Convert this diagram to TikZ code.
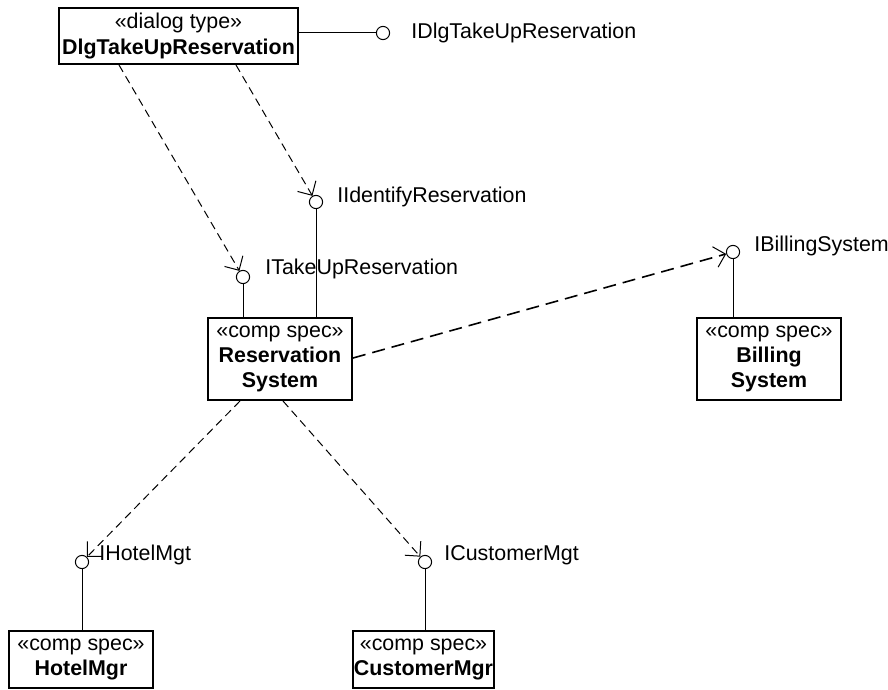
\documentclass[tikz,border=0pt]{standalone}
\usepackage{fontspec}
\setmainfont{Liberation Sans}
\usetikzlibrary{arrows.meta,calc}
\begin{document}
\begin{tikzpicture}[x=0.5pt,y=-0.5pt,
  every node/.style={font=\fontsize{10.7}{12.7}\selectfont},
  comp/.style={draw,line width=1pt,inner sep=0pt,align=center},
  iface/.style={circle,draw,fill=white,line width=0.5pt,minimum size=6.6pt,inner sep=0pt},
  ilabel/.style={anchor=west,inner sep=0pt},
  wire/.style={line width=0.5pt},
  dep/.style={line width=0.5pt,dash pattern=on 4pt off 2.5pt,
    -{Straight Barb[length=5.3pt,width=10.6pt,line width=0.5pt]}},
  deplong/.style={line width=0.8pt,dash pattern=on 6.5pt off 3.5pt,
    -{Straight Barb[length=5.3pt,width=10.6pt,line width=0.5pt]}}
]
\useasboundingbox (0,0) rectangle (888,690);

% components
\node[comp,minimum width=119.5pt,minimum height=28pt] (dlg) at (178.5,36)
  {«dialog type»\\\textbf{DlgTakeUpReservation}};
\node[comp,minimum width=72pt,minimum height=41pt] (res) at (280,359)
  {«comp spec»\\\textbf{Reservation}\\\textbf{System}};
\node[comp,minimum width=72pt,minimum height=41pt] (bill) at (769,359)
  {«comp spec»\\\textbf{Billing}\\\textbf{System}};
\node[comp,minimum width=72pt,minimum height=28.5pt] (hotel) at (81,659.5)
  {«comp spec»\\\textbf{HotelMgr}};
\node[comp,minimum width=70.5pt,minimum height=28.5pt] (cust) at (423.5,659.5)
  {«comp spec»\\\textbf{CustomerMgr}};

% provided interfaces (lollipops)
\node[iface] (idlg) at (383,33) {};
\node[iface] (iident) at (316,202) {};
\node[iface] (itake) at (243,277) {};
\node[iface] (ibill) at (733,252) {};
\node[iface] (ihotel) at (82,562) {};
\node[iface] (icust) at (425,562) {};

\node[ilabel] (lidlg) at (411,33) {IDlgTakeUpReservation};
\node[ilabel] (liident) at (337,197) {IIdentifyReservation};
\node[ilabel] (litake) at (265,269) {ITakeUpReservation};
\node[ilabel] (libill) at (754,246) {IBillingSystem};
\node[ilabel] (lihotel) at (99,555) {IHotelMgt};
\node[ilabel] (licust) at (444,555) {ICustomerMgt};

% lollipop stems
\draw[wire] (dlg.east |- idlg) -- (idlg);
\draw[wire] (iident) -- (iident |- res.north);
\draw[wire] (itake) -- (itake |- res.north);
\draw[wire] (ibill) -- (ibill |- bill.north);
\draw[wire] (ihotel) -- (ihotel |- hotel.north);
\draw[wire] (icust) -- (icust |- cust.north);

% usage dependencies
\draw[dep] ($(dlg.south west)+(61,0)$) -- (itake);
\draw[dep] ($(dlg.south west)+(178,0)$) -- (iident);
\draw[deplong] ($(res.east)+(0,-1)$) -- (ibill);
\draw[dep] ($(res.south)+(-40,0)$) -- (ihotel);
\draw[dep] ($(res.south)+(3,0)$) -- (icust);
\end{tikzpicture}
\end{document}
